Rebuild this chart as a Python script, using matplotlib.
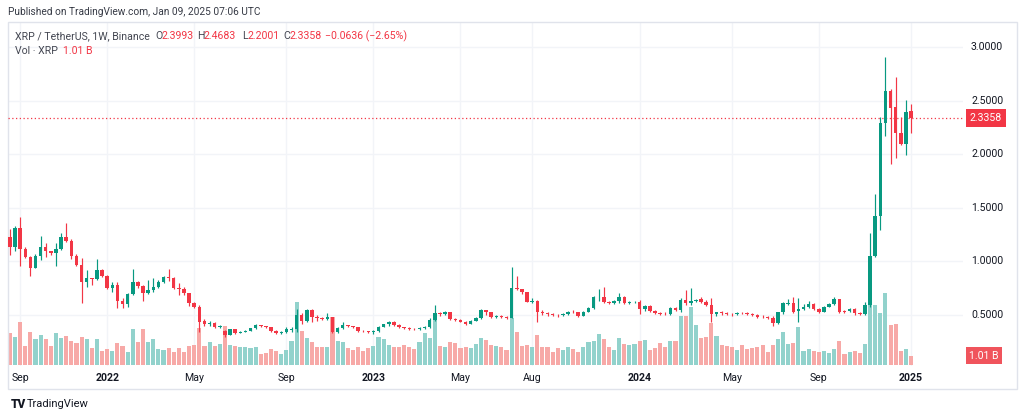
import matplotlib
matplotlib.use("Agg")
import matplotlib.pyplot as plt
from matplotlib.transforms import blended_transform_factory
from matplotlib.patches import Rectangle

# ---------------- data (weekly XRP/USDT, Binance; week 0 = 2021-08-23) -------------
opens = [1.224, 1.137, 1.315, 1.115, 1.044, 0.942, 1.053, 1.137, 1.097, 1.075,
         1.112, 1.224, 1.193, 1.050, 0.966, 0.811, 0.842, 0.836, 0.920, 0.864,
         0.752, 0.780, 0.634, 0.599, 0.693, 0.811, 0.771, 0.708, 0.733, 0.764,
         0.808, 0.855, 0.848, 0.749, 0.745, 0.702, 0.609, 0.577, 0.447, 0.416,
         0.422, 0.391, 0.355, 0.314, 0.366, 0.335, 0.345, 0.354, 0.376, 0.407,
         0.397, 0.388, 0.354, 0.328, 0.340, 0.362, 0.368, 0.500, 0.444, 0.547,
         0.484, 0.475, 0.463, 0.478, 0.344, 0.376, 0.407, 0.397, 0.385, 0.354,
         0.350, 0.344, 0.350, 0.391, 0.413, 0.432, 0.407, 0.385, 0.376, 0.370,
         0.366, 0.376, 0.385, 0.453, 0.522, 0.509, 0.525, 0.460, 0.453, 0.435,
         0.420, 0.447, 0.470, 0.547, 0.525, 0.484, 0.490, 0.478, 0.475, 0.750,
         0.739, 0.711, 0.625, 0.631, 0.531, 0.522, 0.506, 0.500, 0.496, 0.510,
         0.531, 0.525, 0.494, 0.531, 0.568, 0.665, 0.672, 0.625, 0.615, 0.631,
         0.670, 0.609, 0.618, 0.625, 0.553, 0.584, 0.537, 0.522, 0.509, 0.506,
         0.562, 0.547, 0.640, 0.609, 0.634, 0.646, 0.625, 0.593, 0.506, 0.525,
         0.516, 0.512, 0.509, 0.520, 0.516, 0.512, 0.500, 0.484, 0.480, 0.475,
         0.429, 0.525, 0.600, 0.609, 0.540, 0.559, 0.578, 0.603, 0.559, 0.531,
         0.578, 0.600, 0.647, 0.540, 0.540, 0.559, 0.522, 0.506, 0.593, 1.053,
         1.427, 2.288, 2.593, 2.443, 2.202, 2.097, 2.3993]
highs = [1.299, 1.330, 1.417, 1.130, 1.050, 1.066, 1.237, 1.175, 1.100, 1.168,
         1.262, 1.355, 1.206, 1.066, 1.034, 0.920, 0.848, 1.019, 0.929, 0.870,
         0.811, 0.811, 0.655, 0.702, 0.929, 0.820, 0.780, 0.826, 0.842, 0.830,
         0.860, 0.929, 0.855, 0.795, 0.764, 0.708, 0.624, 0.590, 0.460, 0.440,
         0.430, 0.410, 0.360, 0.370, 0.370, 0.355, 0.360, 0.380, 0.420, 0.410,
         0.400, 0.392, 0.358, 0.348, 0.391, 0.390, 0.560, 0.516, 0.553, 0.553,
         0.500, 0.480, 0.516, 0.484, 0.391, 0.432, 0.410, 0.400, 0.390, 0.360,
         0.355, 0.360, 0.395, 0.420, 0.447, 0.440, 0.415, 0.390, 0.385, 0.380,
         0.385, 0.395, 0.469, 0.593, 0.530, 0.540, 0.531, 0.470, 0.460, 0.440,
         0.450, 0.480, 0.553, 0.550, 0.530, 0.500, 0.500, 0.490, 0.945, 0.860,
         0.745, 0.715, 0.662, 0.640, 0.545, 0.530, 0.515, 0.510, 0.520, 0.540,
         0.545, 0.530, 0.540, 0.575, 0.677, 0.739, 0.764, 0.630, 0.640, 0.708,
         0.675, 0.630, 0.635, 0.640, 0.590, 0.590, 0.545, 0.530, 0.530, 0.570,
         0.570, 0.656, 0.733, 0.749, 0.650, 0.665, 0.640, 0.656, 0.530, 0.535,
         0.530, 0.520, 0.530, 0.530, 0.525, 0.520, 0.505, 0.500, 0.490, 0.490,
         0.530, 0.625, 0.647, 0.665, 0.656, 0.600, 0.631, 0.610, 0.565, 0.585,
         0.610, 0.665, 0.653, 0.550, 0.562, 0.562, 0.530, 0.624, 1.268, 1.629,
         2.344, 2.910, 2.605, 2.723, 2.344, 2.506, 2.4683]
lows = [1.060, 1.100, 0.960, 1.029, 0.864, 0.935, 1.013, 1.044, 1.060, 0.957,
        1.106, 1.184, 1.025, 0.960, 0.609, 0.758, 0.780, 0.826, 0.851, 0.739,
        0.718, 0.562, 0.562, 0.578, 0.686, 0.749, 0.634, 0.700, 0.710, 0.750,
        0.800, 0.820, 0.739, 0.686, 0.686, 0.584, 0.562, 0.345, 0.400, 0.400,
        0.380, 0.375, 0.298, 0.310, 0.320, 0.330, 0.340, 0.350, 0.370, 0.385,
        0.380, 0.345, 0.320, 0.322, 0.335, 0.345, 0.345, 0.420, 0.438, 0.438,
        0.440, 0.450, 0.453, 0.335, 0.335, 0.366, 0.390, 0.380, 0.345, 0.340,
        0.335, 0.323, 0.345, 0.385, 0.400, 0.400, 0.378, 0.370, 0.360, 0.360,
        0.360, 0.370, 0.380, 0.447, 0.490, 0.500, 0.450, 0.440, 0.430, 0.410,
        0.415, 0.440, 0.460, 0.500, 0.475, 0.470, 0.470, 0.465, 0.469, 0.730,
        0.700, 0.620, 0.615, 0.438, 0.500, 0.495, 0.490, 0.480, 0.490, 0.500,
        0.515, 0.485, 0.490, 0.525, 0.560, 0.630, 0.609, 0.600, 0.600, 0.610,
        0.600, 0.600, 0.610, 0.509, 0.540, 0.530, 0.510, 0.500, 0.500, 0.500,
        0.540, 0.530, 0.593, 0.593, 0.620, 0.609, 0.580, 0.438, 0.490, 0.500,
        0.500, 0.495, 0.500, 0.505, 0.500, 0.490, 0.475, 0.470, 0.465, 0.397,
        0.420, 0.510, 0.590, 0.522, 0.438, 0.550, 0.569, 0.550, 0.520, 0.525,
        0.570, 0.593, 0.522, 0.520, 0.530, 0.500, 0.500, 0.500, 0.578, 1.044,
        1.293, 2.174, 1.906, 1.962, 2.082, 1.993, 2.2001]
closes = [1.137, 1.315, 1.115, 1.044, 0.942, 1.053, 1.137, 1.097, 1.075, 1.112,
          1.224, 1.193, 1.050, 0.966, 0.811, 0.842, 0.836, 0.920, 0.864, 0.752,
          0.780, 0.634, 0.599, 0.693, 0.811, 0.771, 0.708, 0.733, 0.764, 0.808,
          0.855, 0.848, 0.749, 0.745, 0.702, 0.609, 0.577, 0.438, 0.416, 0.422,
          0.391, 0.400, 0.314, 0.366, 0.329, 0.345, 0.354, 0.376, 0.407, 0.397,
          0.388, 0.354, 0.328, 0.340, 0.366, 0.368, 0.500, 0.444, 0.547, 0.484,
          0.475, 0.463, 0.478, 0.344, 0.376, 0.407, 0.397, 0.385, 0.354, 0.350,
          0.344, 0.350, 0.391, 0.413, 0.432, 0.407, 0.385, 0.376, 0.370, 0.366,
          0.376, 0.385, 0.453, 0.522, 0.509, 0.525, 0.460, 0.453, 0.435, 0.420,
          0.447, 0.470, 0.547, 0.525, 0.484, 0.490, 0.478, 0.475, 0.750, 0.739,
          0.711, 0.625, 0.631, 0.531, 0.522, 0.506, 0.500, 0.496, 0.510, 0.531,
          0.525, 0.494, 0.531, 0.568, 0.670, 0.672, 0.625, 0.615, 0.631, 0.670,
          0.609, 0.618, 0.625, 0.553, 0.584, 0.537, 0.522, 0.509, 0.506, 0.562,
          0.547, 0.640, 0.609, 0.634, 0.640, 0.625, 0.593, 0.506, 0.525, 0.516,
          0.512, 0.509, 0.520, 0.516, 0.512, 0.500, 0.484, 0.480, 0.475, 0.429,
          0.525, 0.609, 0.609, 0.531, 0.553, 0.578, 0.600, 0.559, 0.531, 0.578,
          0.600, 0.647, 0.531, 0.531, 0.553, 0.522, 0.506, 0.593, 1.053, 1.427,
          2.288, 2.593, 2.434, 2.202, 2.097, 2.397, 2.3358]
volumes_b = [3.44, 3.08, 4.64, 2.07, 3.59, 2.79, 3.22, 2.79, 2.07, 3.44,
             2.97, 3.15, 2.61, 2.43, 3.08, 2.79, 1.88, 2.79, 1.52, 1.78,
             1.52, 2.43, 2.07, 1.45, 3.88, 2.46, 3.88, 2.46, 2.86, 1.70,
             1.67, 1.81, 1.38, 1.88, 1.38, 2.10, 2.17, 3.99, 2.10, 2.46,
             2.03, 2.28, 4.28, 2.14, 2.07, 1.92, 1.92, 1.81, 1.92, 1.16,
             1.27, 1.70, 1.56, 1.16, 1.63, 2.64, 6.81, 3.70, 2.90, 2.54,
             1.92, 1.92, 1.92, 5.18, 2.61, 2.54, 1.81, 1.63, 1.92, 1.56,
             1.81, 2.07, 3.08, 2.79, 2.17, 1.92, 2.00, 2.17, 2.00, 1.70,
             2.54, 3.44, 2.90, 5.43, 2.07, 1.92, 2.54, 2.36, 1.81, 1.92,
             1.81, 2.28, 2.90, 2.72, 2.17, 2.07, 1.92, 1.63, 5.07, 3.62,
             2.07, 2.17, 1.92, 3.26, 1.92, 2.00, 1.38, 1.81, 1.63, 1.92,
             1.74, 1.45, 2.00, 2.46, 2.64, 3.33, 2.79, 2.00, 1.63, 2.97,
             2.28, 2.17, 2.28, 2.64, 2.72, 1.63, 1.81, 2.36, 1.92, 2.64,
             2.64, 5.33, 5.33, 6.34, 4.35, 2.90, 3.00, 4.53, 3.15, 2.17,
             2.10, 2.00, 1.63, 2.17, 1.70, 1.81, 2.00, 2.17, 1.45, 2.17,
             2.83, 3.55, 2.25, 2.39, 4.09, 1.52, 1.74, 1.52, 1.45, 1.49,
             1.34, 1.74, 2.61, 1.20, 1.38, 1.49, 1.30, 2.28, 6.52, 6.52,
             5.62, 7.79, 4.35, 4.46, 1.52, 1.70, 1.01]

tick_index = [2, 19, 36, 54, 71, 88, 102, 123, 141, 158, 176]
tick_labels = ["Sep", "2022", "May", "Sep", "2023", "May", "Aug", "2024", "May", "Sep", "2025"]
price_ticks = [0.5, 1.0, 1.5, 2.0, 2.5, 3.0]
last_price = 2.3358
last_volume = 1.01

# ---------------- style ----------------
UP, DOWN = "#089981", "#F23645"
VUP, VDOWN = "#92D2CC", "#F7A9A7"
GRID = "#F2F4F8"
TXT = "#131722"
LEG = "#434651"
FONT = ["Roboto", "DejaVu Sans"]
plt.rcParams["font.family"] = FONT

W, H = 1024, 419
fig = plt.figure(figsize=(W / 100, H / 100), dpi=100)
fig.patch.set_facecolor("white")

def fx(px):
    return px / W

def fy(py):
    return 1 - py / H

left, right, top, bottom = 8, 963, 22, 366
pos = [fx(left), fy(bottom), fx(right) - fx(left), fy(top) - fy(bottom)]

axv = fig.add_axes(pos, zorder=1)
ax = fig.add_axes(pos, zorder=2)
ax.patch.set_alpha(0)
for a in (ax, axv):
    a.set_xlim(-0.371, 186.15)
    for s in a.spines.values():
        s.set_visible(False)
    a.set_xticks([])
    a.set_yticks([])
ax.set_ylim(0.024, 3.233)
axv.set_ylim(-0.11, 37.3)

# grid
for p in price_ticks:
    axv.plot([0, 1], [p, p], transform=blended_transform_factory(axv.transAxes, ax.transData),
             color=GRID, lw=1.0, zorder=0)
for t in tick_index:
    axv.axvline(t, color=GRID, lw=1.0, zorder=0)

n = len(closes)
idx = list(range(n))
up = [c >= o for o, c in zip(opens, closes)]

# volume
axv.bar(idx, volumes_b, width=0.8, color=[VUP if u else VDOWN for u in up], zorder=2, linewidth=0)

# candles
cols = [UP if u else DOWN for u in up]
ax.vlines(idx, lows, highs, colors=cols, linewidth=0.85, zorder=3)
body_bottom = [min(o, c) for o, c in zip(opens, closes)]
body_h = [max(abs(c - o), 0.004) for o, c in zip(opens, closes)]
ax.bar(idx, body_h, bottom=body_bottom, width=0.68, color=cols, linewidth=0, zorder=4)

# last price dotted line
ax.axhline(last_price, color=DOWN, lw=0.9, linestyle=(0, (1, 2)), zorder=2)

# price scale labels
tr_p = blended_transform_factory(fig.transFigure, ax.transData)
for p in price_ticks:
    fig.text(fx(971), p, f"{p:.4f}", transform=tr_p, fontsize=7.6, color=TXT, va="center", ha="left")
fig.text(fx(986), last_price, f"{last_price:.4f}", transform=tr_p, fontsize=7.6, color="white",
         va="center", ha="center",
         bbox=dict(boxstyle="square,pad=0.35", fc=DOWN, ec="none"))
tr_v = blended_transform_factory(fig.transFigure, axv.transData)
fig.text(fx(984), last_volume, f"{last_volume:.2f} B", transform=tr_v, fontsize=7.6, color="white",
         va="center", ha="center",
         bbox=dict(boxstyle="square,pad=0.35", fc="#F0545C", ec="none"))

# time scale labels
tr_t = blended_transform_factory(ax.transData, fig.transFigure)
for t, lab in zip(tick_index, tick_labels):
    bold = lab.isdigit()
    fig.text(t, fy(378), lab, transform=tr_t, fontsize=7.6, color=TXT, ha="center", va="center",
             fontweight="bold" if bold else "normal")

# outer frame
fig.patches.append(Rectangle((fx(8), fy(389)), fx(1017) - fx(8), fy(22) - fy(389),
                             transform=fig.transFigure, fill=False, ec="#E0E3EB", lw=1.0))

# header
fig.text(fx(8), fy(12), "Published on TradingView.com, Jan 09, 2025 07:06 UTC", fontsize=7.3,
         color="#363A45", va="center", ha="left")

# legend
legend_parts = [
    (15, "XRP / TetherUS, 1W, Binance", LEG),
    (155, "O", LEG), (161, "2.3993", DOWN),
    (197, "H", LEG), (204, "2.4683", DOWN),
    (242, "L", LEG), (248, "2.2001", DOWN),
    (283, "C", LEG), (289, "2.3358", DOWN),
    (325, "\u22120.0636 (\u22122.65%)", DOWN),
]
for x, s, c in legend_parts:
    fig.text(fx(x), fy(36), s, fontsize=7.55, color=c, va="center", ha="left")
fig.text(fx(15), fy(51), "Vol \u00b7 XRP", fontsize=7.55, color=LEG, va="center", ha="left")
fig.text(fx(63), fy(51), "1.01 B", fontsize=7.55, color=DOWN, va="center", ha="left")

# footer logo
fig.text(fx(11), fy(404), "TV", fontsize=8.5, color=TXT, fontweight="heavy", va="center", ha="left")
fig.text(fx(27), fy(404), "TradingView", fontsize=8, color=TXT, va="center", ha="left")

fig.savefig("out.png", dpi=100, facecolor="white")
